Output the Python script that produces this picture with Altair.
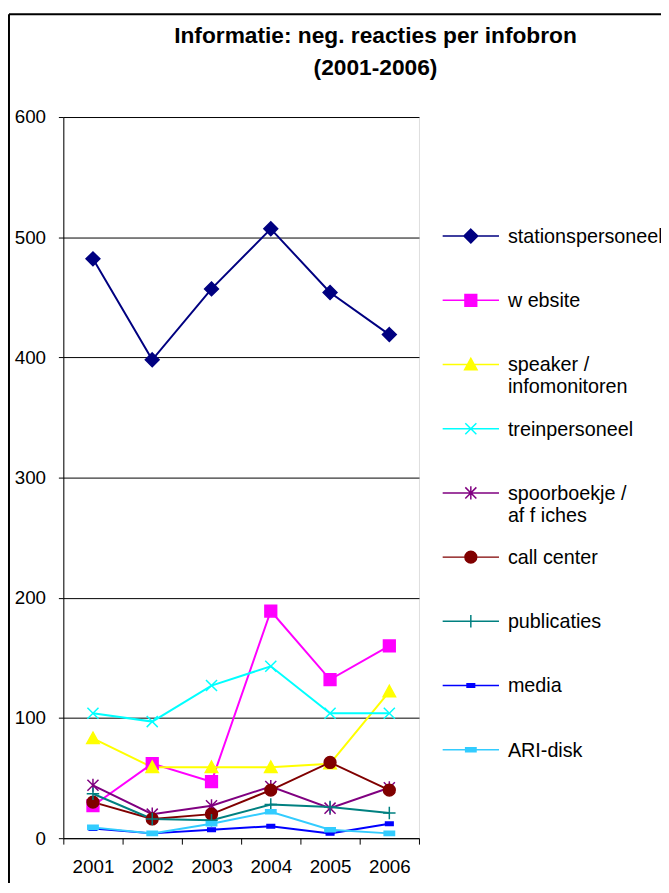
import altair as alt
import pandas as pd
import re

years = ["2001", "2002", "2003", "2004", "2005", "2006"]
series = ["stationspersoneel", "website", "speaker / infomonitoren", "treinpersoneel",
          "spoorboekje / affiches", "call center", "publicaties", "media", "ARI-disk"]
legend_labels = ["stationspersoneel|", "w ebsite|", "speaker /|infomonitoren", "treinpersoneel|",
                 "spoorboekje /|af f iches", "call center|", "publicaties|", "media|", "ARI-disk|"]

stationspersoneel = [482, 398, 457, 507, 454, 419]
website = [27, 62, 47, 189, 132, 160]
speaker = [83, 59, 59, 59, 62, 122]
treinpersoneel = [104, 97, 127, 143, 104, 104]
spoorboekje = [44, 20, 27, 43, 25, 42]
call_center = [30, 16, 20, 40, 63, 40]
publicaties = [37, 16, 15, 28, 26, 21]
media = [8, 4, 7, 10, 4, 12]
ari_disk = [9, 4, 12, 22, 7, 4]

values = [stationspersoneel, website, speaker, treinpersoneel, spoorboekje,
          call_center, publicaties, media, ari_disk]

colors = ["#000080", "#FF00FF", "#FFFF00", "#00FFFF", "#800080",
          "#800000", "#008080", "#0000FF", "#33CCFF"]

# marker paths (unit square -1..1)
m_diamond = "M0,-1L1,0L0,1L-1,0Z"
m_square = "M-0.85,-0.85H0.85V0.85H-0.85Z"
m_triangle = "M0,-0.9L0.9,0.75H-0.9Z"
m_x = "M-0.8,-0.8L0.8,0.8M-0.8,0.8L0.8,-0.8"
m_star = "M-0.8,-0.8L0.8,0.8M-0.8,0.8L0.8,-0.8M0,-0.95L0,0.95"
m_circle = "M-0.85,0A0.85,0.85 0 1,0 0.85,0A0.85,0.85 0 1,0 -0.85,0Z"
m_plus = "M-0.9,0L0.9,0M0,-0.9L0,0.9"
m_media = "M-0.55,-0.25H0.55V0.25H-0.55Z"
m_ari = "M-0.75,-0.3H0.75V0.3H-0.75Z"
markers = [m_diamond, m_square, m_triangle, m_x, m_star, m_circle, m_plus, m_media, m_ari]


def legend_path(p, k=0.6 * 7 / 6, dy=0.9, half=2.85):
    """Scale a marker path and prepend the horizontal legend line."""
    toks = re.findall(r"[A-Za-z]|-?\d*\.?\d+", p)
    parts = ["M{:.3f},{:.3f}H{:.3f}".format(-half, dy, half)]
    cmd = None
    j = 0
    while j < len(toks):
        t = toks[j]
        if t.isalpha():
            cmd = t
            parts.append(t)
            j += 1
            continue
        if cmd in ("M", "L"):
            parts.append("{:.3f},{:.3f} ".format(float(toks[j]) * k, float(toks[j + 1]) * k + dy))
            j += 2
        elif cmd == "H":
            parts.append("{:.3f} ".format(float(toks[j]) * k))
            j += 1
        elif cmd == "V":
            parts.append("{:.3f} ".format(float(toks[j]) * k + dy))
            j += 1
        elif cmd == "A":
            rx = float(toks[j]) * k
            ry = float(toks[j + 1]) * k
            rot, laf, sf = toks[j + 2], toks[j + 3], toks[j + 4]
            x = float(toks[j + 5]) * k
            y = float(toks[j + 6]) * k + dy
            parts.append("{:.3f},{:.3f} {} {},{} {:.3f},{:.3f} ".format(rx, ry, rot, laf, sf, x, y))
            j += 7
        else:
            j += 1
    return "".join(parts).replace(" Z", "Z").strip()


legend_shapes = [legend_path(p) for p in markers]

fills = list(colors)
fills[3] = "transparent"
fills[4] = "transparent"
fills[6] = "transparent"

rows = []
for s, lab, vals in zip(series, legend_labels, values):
    for y, v in zip(years, vals):
        rows.append({"jaar": y, "reeks": s, "entry": lab, "waarde": v})
df = pd.DataFrame(rows)

FONT = "Liberation Sans"

x_enc = alt.X("jaar:N", sort=years, title=None,
              scale=alt.Scale(type="band", paddingInner=0, paddingOuter=0),
              axis=alt.Axis(labelAngle=0, tickBand="extent", tickSize=6, tickColor="black",
                            domainColor="black", labelFontSize=19, labelPadding=14,
                            labelFont=FONT, labelColor="black", grid=False))
y_enc = alt.Y("waarde:Q", title=None,
              scale=alt.Scale(domain=[0, 600], nice=False, zero=True),
              axis=alt.Axis(values=[0, 100, 200, 300, 400, 500, 600], tickSize=5,
                            tickColor="black", domainColor="black", gridColor="black",
                            gridOpacity=1, gridWidth=1, labelFontSize=19, labelPadding=13,
                            labelFont=FONT, labelColor="black"))

base = alt.Chart(df)

lines = base.mark_line(strokeWidth=2).encode(
    x=x_enc, y=y_enc,
    color=alt.Color("reeks:N", scale=alt.Scale(domain=series, range=colors), legend=None),
    detail="reeks:N",
)

points = base.mark_point(size=196, filled=True, opacity=1, strokeWidth=1.5).encode(
    x=x_enc, y=y_enc,
    fill=alt.Fill("reeks:N", scale=alt.Scale(domain=series, range=fills), legend=None),
    stroke=alt.Stroke("reeks:N", scale=alt.Scale(domain=series, range=colors), legend=None),
    shape=alt.Shape("reeks:N", scale=alt.Scale(domain=series, range=markers), legend=None),
)

leg = alt.Legend(title=None, orient="none", legendX=401.5, legendY=100.5, padding=0,
                 symbolSize=400, symbolStrokeWidth=1.5, labelFont=FONT, labelFontSize=20,
                 labelColor="black", labelLimit=500, rowPadding=12, labelOffset=26.5,
                 labelBaseline="top", labelExpr="split(datum.label, '|')")

legend_layer = base.mark_point(filled=True, opacity=1, strokeWidth=1.5).encode(
    fill=alt.Fill("entry:N", scale=alt.Scale(domain=legend_labels, range=fills), legend=leg),
    stroke=alt.Stroke("entry:N", scale=alt.Scale(domain=legend_labels, range=colors), legend=leg),
    shape=alt.Shape("entry:N", scale=alt.Scale(domain=legend_labels, range=legend_shapes), legend=leg),
).transform_filter("false")

frame_df = pd.DataFrame({"k": [0]})
frame_top = alt.Chart(frame_df).mark_rule(color="black", strokeWidth=2).encode(
    x=alt.value(-55), x2=alt.value(620), y=alt.value(-104))
frame_left = alt.Chart(frame_df).mark_rule(color="black", strokeWidth=2).encode(
    x=alt.value(-55), y=alt.value(-104), y2=alt.value(780))

chart = alt.layer(lines, points, legend_layer, frame_top, frame_left).resolve_scale(
    fill="independent", stroke="independent", shape="independent"
).properties(
    width=360, height=730,
    autosize=alt.AutoSizeParams(type="none"),
    padding={"left": 56, "top": 105, "right": 245, "bottom": 40},
    title=alt.TitleParams(["Informatie: neg. reacties per infobron", "(2001-2006)"],
                          anchor="middle", dx=136, dy=101, offset=34, fontSize=23, lineHeight=32,
                          font=FONT, fontWeight="bold", color="black"),
).configure_view(
    fill="#C0C0C0", stroke="#808080", strokeWidth=1
).configure(background="white")

chart.save("out.html", embed_options={"renderer": "svg", "actions": False})
